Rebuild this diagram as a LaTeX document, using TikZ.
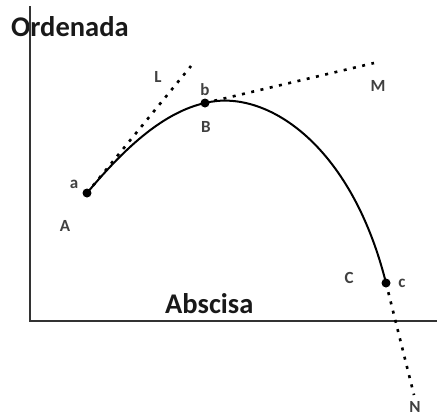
\documentclass[tikz,border=0pt]{standalone}
\usepackage{fontspec}
\setmainfont{Carlito}
\begin{document}
\begin{tikzpicture}[x=1pt,y=-1pt,
  pt/.style={circle,fill=black,inner sep=0pt,minimum size=9pt},
  lbl/.style={font=\fontsize{17}{17}\selectfont\bfseries,text=black!75,inner sep=0pt},
  axlbl/.style={font=\fontsize{28.5}{28.5}\selectfont\bfseries,text=black!90,inner sep=0pt,anchor=base west},
  axis/.style={line width=1.5pt,black!80},
  curve/.style={line width=2pt},
  tangent/.style={line width=2.6pt,dash pattern=on 3pt off 6.5pt}]
\useasboundingbox (0,0) rectangle (437,418);
% axis labels
\node[axlbl] (ord) at (11,36) {Ordenada};
\node[axlbl] (abs) at (165,313) {Abscisa};
% axes
\coordinate (otop) at (30,6);
\coordinate (orig) at (30,321);
\coordinate (xend) at (437,321);
\draw[axis] (otop) -- (orig) -- (xend);
% points
\node[pt] (a) at (87,193) {};
\node[pt] (b) at (205,103) {};
\node[pt] (c) at (386,283) {};
% tangent ends
\coordinate (Lend) at (191,66);
\coordinate (Mend) at (374,63);
\coordinate (Nend) at (414,395);
\draw[tangent] (a.center) -- (Lend);
\draw[tangent] (b.center) -- (Mend);
\draw[tangent] (c.center) -- (Nend);
% curve
\draw[curve] (a.center) .. controls (127,145) and (165,112) .. (b.center)
  .. controls (265,88) and (351,143) .. (c.center);
% labels
\node[lbl] (lL) at (158,77) {L};
\node[lbl] (lb) at (205,90) {b};
\node[lbl] (lB) at (206,127) {B};
\node[lbl] (lM) at (378,86) {M};
\node[lbl] (la) at (74,184) {a};
\node[lbl] (lA) at (65,226) {A};
\node[lbl] (lC) at (349,278) {C};
\node[lbl] (lc) at (402,283) {c};
\node[lbl] (lN) at (415,407) {N};
\end{tikzpicture}
\end{document}
